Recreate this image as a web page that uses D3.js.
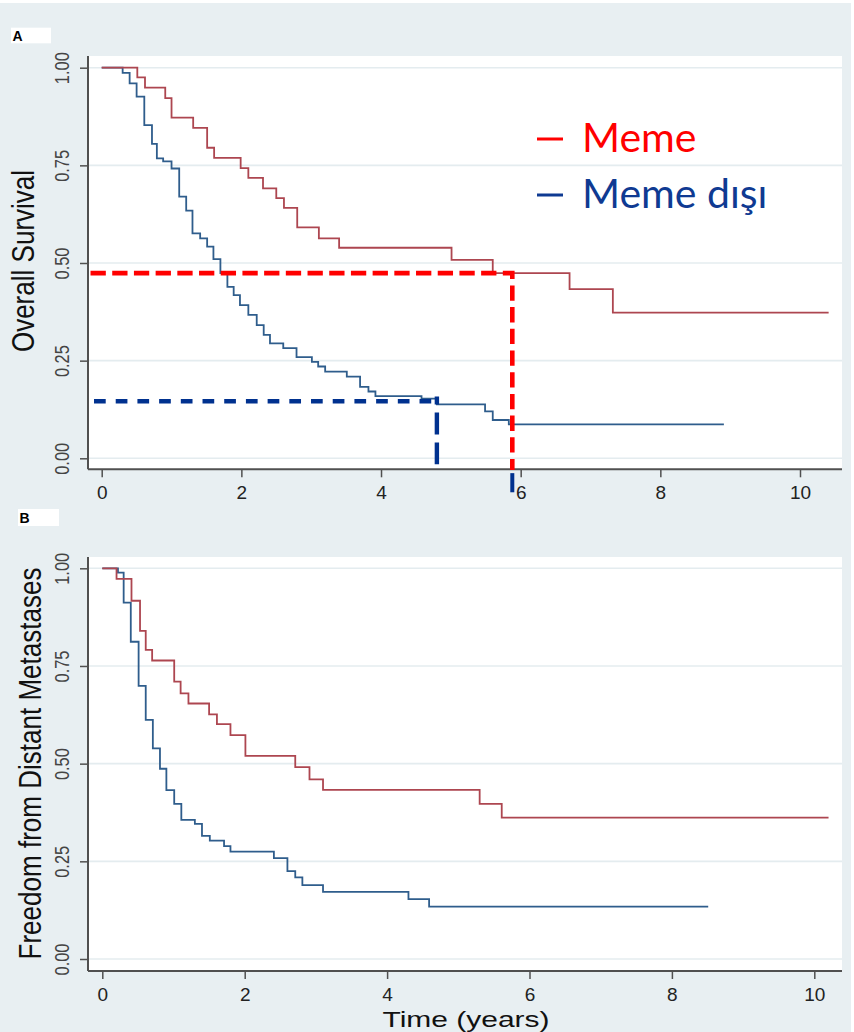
<!DOCTYPE html>
<html>
<head>
<meta charset="utf-8">
<script src="https://cdn.jsdelivr.net/npm/d3@7"></script>
<style>
  html, body { margin: 0; padding: 0; background: #ffffff; }
  svg { display: block; }
</style>
</head>
<body>
<svg id="chart" width="854" height="1032"></svg>
<script>
// Kaplan–Meier step estimates (time in years, survival proportion)
// Panel A: overall survival
const osMemeTimes   = [0, 0.51, 0.62, 0.91, 1.00, 1.31, 1.51, 1.61, 1.99, 2.10, 2.31, 2.50, 2.61, 2.80, 3.11, 3.40, 5.01, 5.60, 6.70, 7.32, 10.41];
const osMemeValues  = [1.000, 0.975, 0.949, 0.922, 0.872, 0.846, 0.795, 0.769, 0.743, 0.718, 0.691, 0.666, 0.641, 0.591, 0.563, 0.539, 0.508, 0.474, 0.433, 0.373, 0.373];
const osOtherTimes  = [0, 0.30, 0.40, 0.50, 0.61, 0.72, 0.79, 0.88, 1.00, 1.11, 1.21, 1.30, 1.41, 1.51, 1.60, 1.70, 1.80, 1.89, 1.98, 2.10, 2.22, 2.32, 2.41, 2.60, 2.79, 3.01, 3.10, 3.20, 3.51, 3.70, 3.82, 3.92, 4.58, 4.80, 5.49, 5.60, 5.83, 8.91];
const osOtherValues = [1.000, 0.987, 0.960, 0.926, 0.853, 0.805, 0.768, 0.760, 0.742, 0.670, 0.634, 0.576, 0.563, 0.542, 0.510, 0.474, 0.439, 0.418, 0.392, 0.367, 0.341, 0.316, 0.294, 0.282, 0.259, 0.247, 0.235, 0.222, 0.209, 0.183, 0.171, 0.159, 0.153, 0.138, 0.120, 0.098, 0.087, 0.087];

// Panel B: freedom from distant metastases
const dmMemeTimes   = [0, 0.20, 0.41, 0.53, 0.61, 0.70, 1.01, 1.10, 1.21, 1.50, 1.61, 1.80, 2.01, 2.71, 2.91, 3.10, 5.30, 5.61, 10.20];
const dmMemeValues  = [1.000, 0.973, 0.917, 0.840, 0.791, 0.764, 0.710, 0.680, 0.654, 0.626, 0.601, 0.573, 0.520, 0.491, 0.460, 0.433, 0.397, 0.362, 0.362];
const dmOtherTimes  = [0, 0.22, 0.30, 0.40, 0.51, 0.61, 0.71, 0.81, 0.90, 1.01, 1.11, 1.30, 1.40, 1.51, 1.71, 1.80, 2.41, 2.60, 2.71, 2.81, 3.10, 4.30, 4.59, 8.51];
const dmOtherValues = [1.000, 0.989, 0.912, 0.812, 0.699, 0.612, 0.539, 0.487, 0.432, 0.397, 0.356, 0.346, 0.315, 0.303, 0.289, 0.275, 0.258, 0.225, 0.209, 0.189, 0.172, 0.153, 0.134, 0.134];

// Axis ticks and labels
const yTicks = [0, 0.25, 0.5, 0.75, 1];
const xTicks = [0, 2, 4, 6, 8, 10];
const legendLabels = ["Meme", "Meme dışı"];
const panelLabels = ["A", "B"];
const yTitles = ["Overall Survival", "Freedom from Distant Metastases"];
const xTitle = "Time (years)";

// Reference guides on panel A: survival level reached by each group
const guideMeme  = { level: 0.474, time: 5.88, from: -0.16 };
const guideOther = { level: 0.146, time: 4.80, from: -0.11 };

const COL = {
  bg: "#e8eff2",
  grid: "#e4ecef",
  axis: "#505050",
  meme: "#ad4650",
  other: "#2f5d8c",
  guideRed: "#ff0000",
  guideBlue: "#00318f",
  legendBlue: "#0f3a92"
};

const svg = d3.select("#chart");
svg.append("rect").attr("x", 0).attr("y", 3).attr("width", 851).attr("height", 1029).attr("fill", COL.bg);

const panels = [
  { top: 56, bottom: 469.3, left: 88, right: 842, xr: [101.7, 800], yr: [458.3, 67.7],
    series: [[osOtherTimes, osOtherValues, COL.other], [osMemeTimes, osMemeValues, COL.meme]],
    label: panelLabels[0], labelBox: [11, 27.7, 40, 15.6], labelBase: 40.5,
    title: yTitles[0], titleX: 33.5, titleY: 261 },
  { top: 557, bottom: 971, left: 88, right: 842, xr: [102.3, 814.3], yr: [959, 568.3],
    series: [[dmOtherTimes, dmOtherValues, COL.other], [dmMemeTimes, dmMemeValues, COL.meme]],
    label: panelLabels[1], labelBox: [18, 509, 41, 17], labelBase: 522.5,
    title: yTitles[1], titleX: 41, titleY: 763.5 }
];

const scales = [];

panels.forEach((p, i) => {
  const x = d3.scaleLinear().domain([0, 10]).range(p.xr);
  const y = d3.scaleLinear().domain([0, 1]).range(p.yr);
  scales.push({ x, y });
  const g = svg.append("g");

  // plot region
  g.append("rect").attr("x", p.left).attr("y", p.top)
    .attr("width", p.right - p.left).attr("height", p.bottom - p.top)
    .attr("fill", "#ffffff");

  // horizontal grid lines
  g.selectAll("line.grid").data(yTicks).join("line")
    .attr("class", "grid")
    .attr("x1", p.left).attr("x2", p.right)
    .attr("y1", d => y(d)).attr("y2", d => y(d))
    .attr("stroke", COL.grid).attr("stroke-width", 1.6);

  // survival curves
  const line = d3.line().x(d => x(d[0])).y(d => y(d[1])).curve(d3.curveStepAfter);
  p.series.forEach(([t, v, c]) => {
    g.append("path").datum(t.map((tt, k) => [tt, v[k]]))
      .attr("d", line).attr("fill", "none")
      .attr("stroke", c).attr("stroke-width", 1.8);
  });

  // y axis
  const yAxis = g.append("g").attr("transform", `translate(${p.left},0)`)
    .call(d3.axisLeft(y).tickValues(yTicks).tickFormat(d3.format(".2f")).tickSize(8));
  yAxis.select(".domain").remove();
  yAxis.selectAll(".tick line").attr("stroke", COL.axis).attr("stroke-width", 1.5);
  yAxis.selectAll(".tick text")
    .attr("x", null).attr("dy", null)
    .attr("transform", "translate(-19,0) scale(1,0.84) rotate(-90)")
    .attr("text-anchor", "middle")
    .attr("fill", "#444")
    .style("font-family", "'Liberation Sans', Arial, sans-serif")
    .style("font-size", "19.5px");

  // x axis
  const xAxis = g.append("g").attr("transform", `translate(0,${p.bottom})`)
    .call(d3.axisBottom(x).tickValues(xTicks).tickSize(8));
  xAxis.select(".domain").remove();
  xAxis.selectAll(".tick line").attr("stroke", COL.axis).attr("stroke-width", 1.5);
  xAxis.selectAll(".tick text")
    .attr("y", 30).attr("dy", null)
    .attr("fill", "#222")
    .style("font-family", "'Liberation Sans', Arial, sans-serif")
    .style("font-size", "19px");

  // axis lines
  g.append("line").attr("x1", p.left).attr("x2", p.left).attr("y1", p.top).attr("y2", p.bottom)
    .attr("stroke", COL.axis).attr("stroke-width", 2);
  g.append("line").attr("x1", p.left).attr("x2", p.right).attr("y1", p.bottom).attr("y2", p.bottom)
    .attr("stroke", COL.axis).attr("stroke-width", 2);

  // y axis title
  g.append("text")
    .attr("transform", `translate(${p.titleX},${p.titleY}) scale(1,0.84) rotate(-90)`)
    .attr("text-anchor", "middle")
    .attr("fill", "#111")
    .style("font-family", "'Liberation Sans', Arial, sans-serif")
    .style("font-size", "31px")
    .text(p.title);

  // panel letter
  const [bx, by, bw, bh] = p.labelBox;
  g.append("rect").attr("x", bx).attr("y", by).attr("width", bw).attr("height", bh).attr("fill", "#ffffff");
  g.append("text").attr("x", bx + 1.5).attr("y", p.labelBase)
    .attr("fill", "#000")
    .style("font-family", "'Liberation Sans', Arial, sans-serif")
    .style("font-weight", "bold").style("font-size", "14px")
    .text(p.label);
});

// x axis title (bottom panel)
svg.append("text")
  .attr("transform", "translate(466,1027) scale(1,0.76)")
  .attr("text-anchor", "middle")
  .attr("fill", "#111")
  .style("font-family", "'Liberation Sans', Arial, sans-serif")
  .style("font-size", "30px")
  .text(xTitle);

// Guides on panel A
const { x: xA, y: yA } = scales[0];
const guideRedPath = d3.path();
guideRedPath.moveTo(xA(guideMeme.from), yA(guideMeme.level));
guideRedPath.lineTo(xA(guideMeme.time), yA(guideMeme.level));
guideRedPath.lineTo(xA(guideMeme.time), yA(-0.03));
svg.append("path").attr("d", guideRedPath.toString())
  .attr("fill", "none").attr("stroke", COL.guideRed).attr("stroke-width", 4.6)
  .attr("stroke-dasharray", "15.3 6.4");
svg.append("line")
  .attr("x1", xA(guideMeme.time)).attr("x2", xA(guideMeme.time))
  .attr("y1", yA(-0.038)).attr("y2", yA(-0.087))
  .attr("stroke", COL.guideBlue).attr("stroke-width", 4);

svg.append("line")
  .attr("x1", xA(guideOther.from)).attr("x2", xA(guideOther.time) + 3)
  .attr("y1", yA(guideOther.level)).attr("y2", yA(guideOther.level))
  .attr("stroke", COL.guideBlue).attr("stroke-width", 4.6)
  .attr("stroke-dasharray", "11.7 10");
svg.append("line")
  .attr("x1", xA(guideOther.time)).attr("x2", xA(guideOther.time))
  .attr("y1", yA(guideOther.level + 0.012)).attr("y2", yA(-0.015))
  .attr("stroke", COL.guideBlue).attr("stroke-width", 4.4)
  .attr("stroke-dasharray", "22 8").attr("stroke-dashoffset", 14);

// Legend
const legend = svg.append("g");
const legendColors = [COL.guideRed, COL.legendBlue];
legendLabels.forEach((lab, k) => {
  const base = 152 + k * 56;
  legend.append("line").attr("x1", 537).attr("x2", 563)
    .attr("y1", base - 13).attr("y2", base - 13)
    .attr("stroke", legendColors[k]).attr("stroke-width", 3);
  legend.append("text").attr("x", 582).attr("y", base)
    .attr("fill", legendColors[k])
    .style("font-family", "Lato, 'Open Sans', sans-serif")
    .style("font-size", "41px")
    .text(lab);
});
</script>
</body>
</html>
